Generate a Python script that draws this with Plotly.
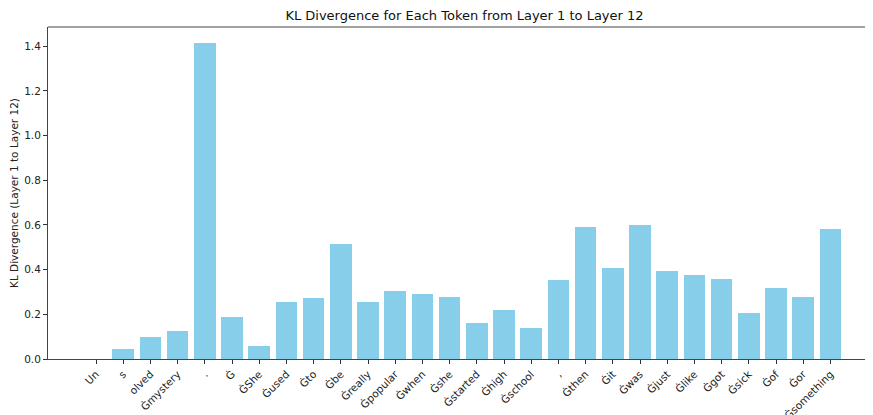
import plotly.graph_objects as go

tokens = ["Un", "s", "olved", "Ġmystery", ".", "Ġ", "ĠShe", "Ġused", "Ġto", "Ġbe",
          "Ġreally", "Ġpopular", "Ġwhen", "Ġshe", "Ġstarted", "Ġhigh", "Ġschool", ",",
          "Ġthen", "Ġit", "Ġwas", "Ġjust", "Ġlike", "Ġgot", "Ġsick", "Ġof", "Ġor", "Ġsomething"]
kl_values = [0.0, 0.046, 0.100, 0.126, 1.415, 0.186, 0.056, 0.253, 0.275, 0.516,
             0.253, 0.304, 0.289, 0.279, 0.159, 0.220, 0.137, 0.353,
             0.589, 0.408, 0.599, 0.395, 0.376, 0.359, 0.206, 0.319, 0.276, 0.584]
y_ticks = [0.0, 0.2, 0.4, 0.6, 0.8, 1.0, 1.2, 1.4]

xs = list(range(len(tokens)))

fig = go.Figure(go.Bar(
    x=xs, y=kl_values, width=0.8,
    marker=dict(color="#87CEEB", line=dict(width=0)),
))

font_family = "DejaVu Sans"
fig.update_layout(
    width=873, height=415,
    margin=dict(l=40, r=0, t=19, b=64, autoexpand=False),
    plot_bgcolor="white", paper_bgcolor="white",
    font=dict(family=font_family, size=10.5, color="#222"),
    title=dict(text="KL Divergence for Each Token from Layer 1 to Layer 12",
               x=0.5, xanchor="center", xref="paper",
               y=1 - 7 / 415, yanchor="middle", yref="container",
               font=dict(size=13, color="#111"), automargin=False),
    showlegend=False,
    bargap=0,
)
fig.update_xaxes(
    range=[-1.765, 28.86], automargin=False,
    tickmode="array", tickvals=xs, ticktext=tokens, tickangle=-45,
    ticks="outside", ticklen=4, tickcolor="#333", tickwidth=1,
    showline=True, linecolor="#444", linewidth=1, mirror=False,
    showgrid=False, zeroline=False,
    tickfont=dict(size=10.5, color="#222"),
)
fig.update_yaxes(
    range=[0, 1.486], automargin=False,
    tickmode="array", tickvals=y_ticks, ticktext=[f"{v:.1f}" for v in y_ticks],
    ticks="outside", ticklen=4, tickcolor="#333", tickwidth=1,
    showline=True, linecolor="#444", linewidth=1, mirror=False,
    showgrid=False, zeroline=False,
    title=dict(text="KL Divergence (Layer 1 to Layer 12)", font=dict(size=10.5, color="#222"), standoff=8),
    tickfont=dict(size=10.5, color="#222"),
)
# top spine
fig.add_shape(type="line", xref="paper", yref="paper", x0=0, x1=1, y0=1, y1=1,
              line=dict(color="#444", width=1))

fig.write_html("out.html")
